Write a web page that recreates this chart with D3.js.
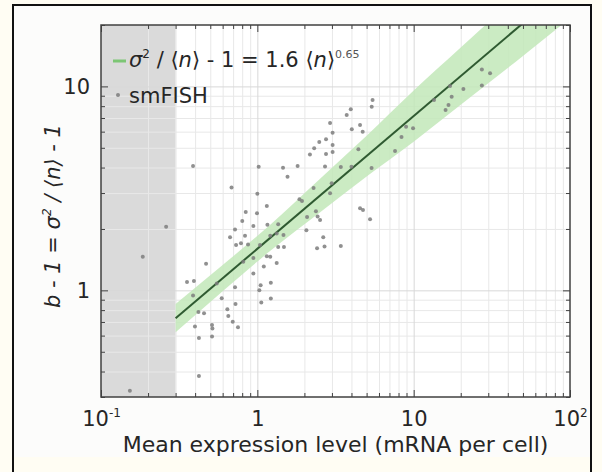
<!DOCTYPE html>
<html><head><meta charset="utf-8">
<script src="https://cdn.jsdelivr.net/npm/d3@7"></script>
<style>
html,body{margin:0;padding:0;background:#fffdf3;}
svg{display:block;}
</style></head><body>
<svg id="c" width="602" height="472"></svg>
<script>
// ---- data ----
const xMajor = [0.1, 1, 10, 100];
const xMajorLabels = [["10","-1"],["1",""],["10",""],["10","2"]];
const xMinor = [0.2,0.3,0.4,0.5,0.6,0.7,0.8,0.9,2,3,4,5,6,7,8,9,20,30,40,50,60,70,80,90];
const yMajor = [1, 10];
const yMajorLabels = ["1","10"];
const yMinor = [0.3,0.4,0.5,0.6,0.7,0.8,0.9,2,3,4,5,6,7,8,9,20];
const shadeX = [0.1, 0.3];
const fitX = [0.3, 50];
const fitY = [0.73, 20.4];
const bandX    = [0.3,   0.6,   1.2,   2.5,  5,    10,   20,   50,   100];
const bandLow  = [0.624, 0.991, 1.553, 2.40, 3.62, 5.36, 8.13, 14.1, 21.6];
const bandHigh = [0.857, 1.331, 2.087, 3.51, 5.73, 9.54, 15.5, 29.4, 47.0];
const smX = [0.153,0.185,0.261,0.388,0.355,0.393,0.470,0.388,0.420,0.456,0.399,0.423,0.423,0.513,0.516,0.513,
  0.592,0.643,0.652,0.696,0.752,0.720,0.725,0.684,0.669,0.720,0.801,0.843,0.834,0.731,0.786,0.872,0.813,0.550,
  1.02,1.00,1.15,0.995,0.943,1.16,1.36,1.21,1.47,1.33,1.04,1.36,1.48,0.943,1.15,1.21,1.33,0.943,1.10,1.05,1.03,1.06,1.22,1.22,1.46,1.56,1.81,
  1.86,1.93,2.08,2.06,2.29,2.37,2.43,2.52,2.41,2.69,2.64,2.17,2.31,2.49,2.75,2.92,3.03,3.03,3.03,2.75,2.71,2.99,2.92,
  3.42,3.42,3.73,3.96,4.02,4.54,4.72,4.43,4.00,5.38,4.54,4.74,5.26,5.46,5.39,
  7.60,8.36,8.94,9.91,13.5,16.0,16.7,17.5,17.1,20.8,27.3,30.8,27.3];
const smY = [0.322,1.46,2.05,4.07,1.10,1.11,1.35,0.944,0.783,0.772,0.665,0.584,0.380,0.676,0.650,0.594,
  0.914,0.807,0.749,0.702,0.659,1.035,0.857,3.19,1.82,1.99,2.19,2.42,1.85,1.67,1.70,1.68,1.38,1.08,
  4.04,2.98,2.59,2.39,2.07,2.10,2.11,1.85,1.87,1.90,1.67,1.63,1.63,1.44,1.47,1.46,1.36,1.21,1.31,1.06,1.00,0.872,1.09,0.912,3.99,3.61,4.07,
  2.80,2.74,2.29,1.97,3.18,2.44,2.30,2.21,1.61,1.64,1.82,4.64,4.97,5.34,5.50,6.61,5.93,5.16,4.77,4.66,4.05,3.35,2.99,
  4.03,1.65,7.24,7.72,6.16,6.47,6.00,4.92,4.04,3.98,2.53,2.48,2.23,8.58,7.95,
  4.82,5.65,6.34,6.23,8.58,7.66,8.11,8.90,10.04,9.71,12.1,11.6,10.1];

// ---- layout ----
const L = 101, R = 570, T = 25, B = 397;
const FONT = '"DejaVu Sans", sans-serif';
const TXT = '#262626';
const svg = d3.select('#c');
const x = d3.scaleLog().domain([0.1, 100]).range([L, R]);
const y = d3.scaleLog().domain([0.3, 20]).range([B, T]);

// frame
svg.append('rect').attr('x',13).attr('y',5).attr('width',578).attr('height',452).attr('fill','#fcfcfb');
svg.append('path').attr('d','M13,472V5H591V472').attr('fill','none').attr('stroke','#111').attr('stroke-width',2);

// plot bg
svg.append('rect').attr('x',L).attr('y',T).attr('width',R-L).attr('height',B-T).attr('fill','#ffffff');
svg.append('defs').append('clipPath').attr('id','clip')
  .append('rect').attr('x',L).attr('y',T).attr('width',R-L).attr('height',B-T);

// shaded region
svg.append('rect').attr('x',x(shadeX[0])).attr('y',T)
  .attr('width',x(shadeX[1])-x(shadeX[0])).attr('height',B-T).attr('fill','#dadada');

// grid
function grid(vals, color){
  const gx = svg.append('g').attr('transform',`translate(0,${B})`)
    .call(d3.axisBottom(x).tickValues(vals.filter(v=>v>0.1&&v<100)).tickSize(-(B-T)).tickFormat(''));
  gx.select('.domain').remove();
  gx.selectAll('line').attr('stroke',color).attr('stroke-width',1);
}
function gridY(vals, color){
  const gy = svg.append('g').attr('transform',`translate(${L},0)`)
    .call(d3.axisLeft(y).tickValues(vals.filter(v=>v>0.3&&v<20)).tickSize(-(R-L)).tickFormat(''));
  gy.select('.domain').remove();
  gy.selectAll('line').attr('stroke',color).attr('stroke-width',1);
}
grid(xMinor,'#e8e8e8'); gridY(yMinor,'#e8e8e8');
grid(xMajor,'#d8d8d8'); gridY(yMajor,'#d8d8d8');

// band + fit
const plot = svg.append('g').attr('clip-path','url(#clip)');
const bandData = bandX.map((v,i)=>({x:v, lo:bandLow[i], hi:bandHigh[i]}));
plot.append('path').datum(bandData)
  .attr('d', d3.area().x(d=>x(d.x)).y0(d=>y(d.lo)).y1(d=>y(d.hi)).curve(d3.curveMonotoneX))
  .attr('fill','#c2e7b8').attr('opacity',0.85);
plot.append('path').datum(fitX.map((v,i)=>[v,fitY[i]]))
  .attr('d', d3.line().x(d=>x(d[0])).y(d=>y(d[1])))
  .attr('stroke','#2f5a31').attr('stroke-width',2).attr('fill','none');

// scatter
plot.append('g').selectAll('circle').data(smX.map((v,i)=>[v,smY[i]])).join('circle')
  .attr('cx',d=>x(d[0])).attr('cy',d=>y(d[1])).attr('r',2)
  .attr('fill','#7d7d7d').attr('opacity',0.85);

// axes ticks
function styleAxis(g){
  g.select('.domain').remove();
  g.selectAll('line').attr('stroke','#404040').attr('stroke-width',1);
  g.attr('font-family',FONT);
  g.selectAll('text').attr('fill',TXT);
}
const bMaj = svg.append('g').attr('transform',`translate(0,${B})`)
  .call(d3.axisBottom(x).tickValues(xMajor).tickSizeInner(-7).tickSizeOuter(0).tickPadding(14).tickFormat(''));
styleAxis(bMaj);
bMaj.selectAll('.tick text').each(function(d,i){
  const t = d3.select(this).attr('font-size',21).attr('dy','0.71em');
  t.text(null);
  t.append('tspan').text(xMajorLabels[i][0]);
  if (xMajorLabels[i][1]) t.append('tspan').attr('font-size',12).attr('dy',-9).text(xMajorLabels[i][1]);
});
styleAxis(svg.append('g').attr('transform',`translate(0,${B})`)
  .call(d3.axisBottom(x).tickValues(xMinor).tickSizeInner(-4).tickSizeOuter(0).tickFormat('')));
styleAxis(svg.append('g').attr('transform',`translate(0,${T})`)
  .call(d3.axisTop(x).tickValues(xMajor).tickSizeInner(-7).tickSizeOuter(0).tickFormat('')));
styleAxis(svg.append('g').attr('transform',`translate(0,${T})`)
  .call(d3.axisTop(x).tickValues(xMinor).tickSizeInner(-4).tickSizeOuter(0).tickFormat('')));

const lMaj = svg.append('g').attr('transform',`translate(${L},0)`)
  .call(d3.axisLeft(y).tickValues(yMajor).tickSizeInner(-7).tickSizeOuter(0).tickPadding(11)
    .tickFormat((d,i)=>yMajorLabels[i]));
styleAxis(lMaj);
lMaj.selectAll('.tick text').attr('font-size',21);
styleAxis(svg.append('g').attr('transform',`translate(${L},0)`)
  .call(d3.axisLeft(y).tickValues(yMinor).tickSizeInner(-4).tickSizeOuter(0).tickFormat('')));
styleAxis(svg.append('g').attr('transform',`translate(${R},0)`)
  .call(d3.axisRight(y).tickValues(yMajor).tickSizeInner(-7).tickSizeOuter(0).tickFormat('')));
styleAxis(svg.append('g').attr('transform',`translate(${R},0)`)
  .call(d3.axisRight(y).tickValues(yMinor).tickSizeInner(-4).tickSizeOuter(0).tickFormat('')));

// axis box
svg.append('rect').attr('x',L).attr('y',T).attr('width',R-L).attr('height',B-T)
  .attr('fill','none').attr('stroke','#404040').attr('stroke-width',1.5);

// axis titles
svg.append('text').attr('x',(L+R)/2).attr('y',452).attr('text-anchor','middle')
  .attr('font-family',FONT).attr('font-size',22).attr('fill',TXT)
  .text('Mean expression level (mRNA per cell)');

const yl = svg.append('text').attr('transform','translate(60,216) rotate(-90)')
  .attr('text-anchor','middle').attr('font-family',FONT).attr('font-size',21)
  .attr('fill',TXT).attr('font-style','italic');
yl.append('tspan').text('b - 1 = σ');
yl.append('tspan').attr('font-size',12).attr('dy',-9).text('2');
yl.append('tspan').attr('dy',9).text(' / ⟨n⟩ - 1');

// legend
svg.append('line').attr('x1',113).attr('x2',126).attr('y1',61).attr('y2',61)
  .attr('stroke','#7cc674').attr('stroke-width',3);
const lg = svg.append('text').attr('x',129).attr('y',67).attr('font-family',FONT)
  .attr('font-size',21).attr('fill',TXT);
lg.append('tspan').attr('font-style','italic').text('σ');
lg.append('tspan').attr('font-size',12).attr('dy',-9).text('2');
lg.append('tspan').attr('dy',9).text(' / ⟨');
lg.append('tspan').attr('font-style','italic').text('n');
lg.append('tspan').text('⟩ - 1 = 1.6 ⟨');
lg.append('tspan').attr('font-style','italic').text('n');
lg.append('tspan').text('⟩');
lg.append('tspan').attr('font-size',11).attr('dy',-9).attr('fill','#555').text('0.65');

svg.append('circle').attr('cx',118).attr('cy',95).attr('r',2).attr('fill','#8a8a8a');
svg.append('text').attr('x',129).attr('y',103).attr('font-family',FONT)
  .attr('font-size',21).attr('fill',TXT).text('smFISH');
</script>
</body></html>
